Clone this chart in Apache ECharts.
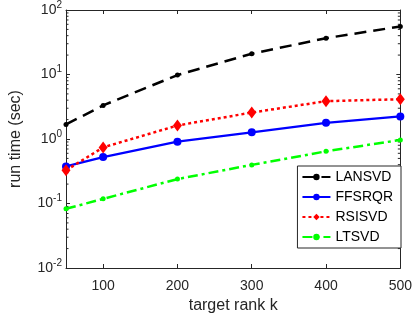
<!DOCTYPE html>
<html><head><meta charset="utf-8">
<script src="https://cdn.jsdelivr.net/npm/echarts@6/dist/echarts.min.js"></script>
<style>html,body{margin:0;padding:0;background:#fff}#c{width:415px;height:319px}</style>
</head><body><div id="c"></div>
<script>
const ranks = [50, 100, 200, 300, 400, 500];
const lansvd = [1.68, 3.32, 9.8, 21.0, 36.6, 55.5];
const ffsrqr = [0.375, 0.524, 0.91, 1.27, 1.78, 2.24];
const rsisvd = [0.327, 0.741, 1.62, 2.57, 3.86, 4.14];
const ltsvd = [0.0827, 0.118, 0.239, 0.397, 0.644, 0.966];
const xTicks = [100, 200, 300, 400, 500];
const yMin = 0.01, yMax = 100;

const minorVals = [];
for (let e = -2; e < 2; e++) for (let m = 2; m <= 9; m++) minorVals.push([50, m * Math.pow(10, e)]);

const axisColor = '#262626';
const font = 'Liberation Sans, Arial, sans-serif';
const pair = (ys) => ranks.map((x, i) => [x, ys[i]]);

const chart = echarts.init(document.getElementById('c'), null, {renderer: 'canvas'});
chart.setOption({
  animation: false,
  backgroundColor: '#fff',
  grid: {left: 55, right: 13, top: 7, bottom: 46, containLabel: false},
  xAxis: [{
    type: 'value', min: 50, max: 500, position: 'bottom',
    name: 'target rank k', nameLocation: 'middle', nameGap: 30,
    nameTextStyle: {color: axisColor, fontSize: 16, fontFamily: font},
    axisLine: {onZero: false, lineStyle: {color: axisColor, width: 1}},
    axisTick: {inside: true, length: 4, customValues: xTicks, lineStyle: {color: axisColor}},
    axisLabel: {customValues: xTicks, color: axisColor, fontSize: 14, fontFamily: font, margin: 11},
    splitLine: {show: false}
  }, {
    type: 'value', min: 50, max: 500, position: 'top',
    axisLine: {onZero: false, lineStyle: {color: axisColor, width: 1}},
    axisTick: {inside: true, length: 4, customValues: xTicks, lineStyle: {color: axisColor}},
    axisLabel: {show: false}, splitLine: {show: false}
  }],
  yAxis: [{
    type: 'log', logBase: 10, min: yMin, max: yMax, interval: 1, position: 'left',
    name: 'run time (sec)', nameLocation: 'middle', nameGap: 42,
    nameTextStyle: {color: axisColor, fontSize: 16, fontFamily: font},
    axisLine: {show: true, onZero: false, lineStyle: {color: axisColor, width: 1}},
    axisTick: {inside: true, length: 4, lineStyle: {color: axisColor}},
    axisLabel: {
      color: axisColor, fontSize: 14, fontFamily: font, margin: 4,
      formatter: v => '10{s|' + Math.round(Math.log10(v)) + '}',
      rich: {s: {fontSize: 10, fontFamily: font, color: axisColor, padding: [0, 0, 10, 0]}}
    },
    splitLine: {show: false}
  }, {
    type: 'log', logBase: 10, min: yMin, max: yMax, interval: 1, position: 'right',
    axisLine: {show: true, onZero: false, lineStyle: {color: axisColor, width: 1}},
    axisTick: {inside: true, length: 4, lineStyle: {color: axisColor}},
    axisLabel: {show: false}, splitLine: {show: false}
  }],
  legend: {
    orient: 'vertical', right: 14, top: 166,
    backgroundColor: '#fff', borderColor: axisColor, borderWidth: 1,
    padding: [4, 8, 4, 4], itemGap: 6, itemWidth: 28, itemHeight: 8,
    textStyle: {fontSize: 14, fontFamily: font, color: '#000'},
    data: ['LANSVD', 'FFSRQR', 'RSISVD', 'LTSVD']
  },
  series: [{
    type: 'custom', xAxisIndex: 0, yAxisIndex: 0, silent: true, z: 1,
    data: minorVals,
    renderItem: (params, api) => {
      const v = api.value(1);
      const l = api.coord([50, v]);
      const r = api.coord([500, v]);
      const st = {stroke: axisColor, lineWidth: 1};
      return {type: 'group', children: [
        {type: 'line', shape: {x1: l[0], y1: l[1], x2: l[0] + 2.5, y2: l[1]}, style: st},
        {type: 'line', shape: {x1: r[0], y1: r[1], x2: r[0] - 2.5, y2: r[1]}, style: st}
      ]};
    }
  }, {
    name: 'LANSVD', type: 'line', data: pair(lansvd),
    symbol: 'circle', symbolSize: 5,
    lineStyle: {color: '#000', width: 2.5, type: [12, 7]},
    itemStyle: {color: '#000'}
  }, {
    name: 'FFSRQR', type: 'line', data: pair(ffsrqr),
    symbol: 'circle', symbolSize: 8,
    lineStyle: {color: '#0000ff', width: 2.3, type: 'solid'},
    itemStyle: {color: '#0000ff'}
  }, {
    name: 'RSISVD', type: 'line', data: pair(rsisvd),
    symbol: 'diamond', symbolSize: [9, 12],
    lineStyle: {color: '#ff0000', width: 2.5, type: [3, 3]},
    itemStyle: {color: '#ff0000'}
  }, {
    name: 'LTSVD', type: 'line', data: pair(ltsvd),
    symbol: 'circle', symbolSize: 5,
    lineStyle: {color: '#00ff00', width: 2.5, type: [10, 4, 3, 4]},
    itemStyle: {color: '#00ff00'}
  }]
});
</script></body></html>
